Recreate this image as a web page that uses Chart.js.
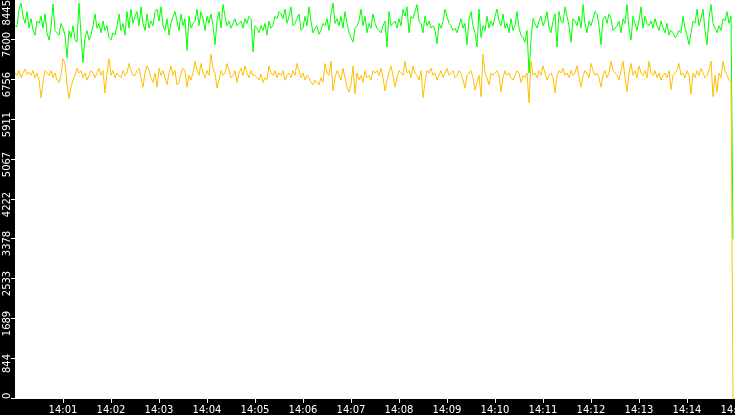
<!DOCTYPE html>
<html>
<head>
<meta charset="utf-8">
<script src="https://cdn.jsdelivr.net/npm/chart.js@4.4.1/dist/chart.umd.min.js"></script>
<style>
  html, body { margin: 0; padding: 0; background: #000; }
  #wrap { width: 735px; height: 415px; position: relative; }
</style>
</head>
<body>
<div id="wrap"><canvas id="c"></canvas></div>
<script>
// seconds between samples (start 14:00:00)
const sampleSeconds = 2.5;

const xTickValues = [60,120,180,240,300,360,420,480,540,600,660,720,780,840,900];
const xTickLabels = ['14:01','14:02','14:03','14:04','14:05','14:06','14:07','14:08','14:09','14:10','14:11','14:12','14:13','14:14','14:15'];

const yTickValues = [0,844.5,1689,2533.5,3378,4222.5,5067,5911.5,6756,7600.5,8445];
const yTickLabels = ['0','844','1689','2533','3378','4222','5067','5911','6756','7600','8445'];

const greenValues = [
7900,7880,8250,8380,8100,7950,8200,7850,8050,7800,
7700,8000,7950,8100,7850,8150,7750,7600,7850,8360,
7800,7750,7700,7950,7850,7700,7220,7800,7650,7900,
7600,7550,8380,7700,7120,7650,7800,7600,7700,7900,
8150,7850,7950,7750,8000,7800,7900,7650,7600,7750,
7700,7900,8150,7800,7950,7700,8200,7850,8250,7950,
8100,8200,7900,8300,7950,7800,8150,7850,8000,7900,
8200,8250,8000,8300,7900,7800,8050,7700,7950,8100,
8200,8000,7800,8150,7900,8050,7380,8100,7850,7950,
8000,8250,7900,8200,8050,7800,8100,7950,8150,7900,
7500,8000,8200,7850,8350,8100,7900,8000,7850,7950,
8050,7900,7950,8000,7850,8050,7950,8100,8050,7350,
7900,7850,7750,7900,7800,7950,7700,8000,7850,7900,
8100,8050,8200,8150,8050,8250,7950,8100,8300,7900,
7950,8050,8150,7800,7850,8100,7900,8300,8000,7750,
7850,7900,7720,7800,7950,7900,8050,7800,8150,8380,
7950,8050,7900,8100,7850,8200,7950,7750,7650,7550,
7850,7900,8000,8250,7900,8100,7750,7950,7850,8150,
7950,7850,7800,7750,7900,8000,7450,8200,7900,7950,
8000,7850,8050,7900,8250,8100,8300,7750,8100,8050,
8200,8350,8000,7950,7750,8100,7900,8000,7850,7900,
7800,7520,7950,7850,8000,8250,8100,7950,7900,7800,
7850,7750,7900,8050,7850,7950,7500,8050,8200,7900,
7750,7450,8250,7650,7900,7800,8100,7850,8000,7900,
8100,8250,8000,7900,8150,7850,7950,7750,8050,7800,
7900,8200,7850,7700,7650,7550,7800,6900,7600,8050,
7950,7850,8000,8100,7900,8000,8200,7850,7750,8000,
8150,7450,8200,8000,7950,8300,8100,7900,7550,8050,
8000,7900,8100,7850,8350,7950,7750,8000,7900,8050,
8200,8150,7900,7500,8050,8100,7950,8150,8050,7800,
7850,7900,8000,7750,8050,7950,8350,7850,7600,8100,
7950,7800,8000,8300,7850,8100,7950,7900,8000,7850,
8050,7900,7800,8000,7850,7750,7950,7700,7800,7750,
7650,7700,7800,7750,8100,7850,7700,7500,7750,8000,
7950,8250,7900,8050,8250,7800,7500,8050,8350,7950,
7850,7750,7900,7800,8050,8000,8200,7950,8100,3380
];

const yellowValues = [
6900,6850,6950,6800,6900,6980,6870,6920,6850,6950,
6800,6900,6750,6380,6700,6950,6900,6850,6950,6800,
6900,6750,6700,6850,7200,7100,6650,6360,6600,6750,
6850,7000,6900,6950,6800,6900,6750,6850,6950,6900,
6800,6900,7000,6850,6950,6480,6900,7200,6850,6950,
6800,6900,6850,6800,6950,6850,6900,7100,6950,6850,
6850,6950,7000,6800,6600,6900,7050,6950,6800,6700,
6900,6600,7000,6850,6950,6800,6650,6900,7050,6850,
6950,6650,6700,6900,7000,6950,6600,6850,6750,6900,
7150,6950,6850,7100,6900,6800,6950,6850,7300,7000,
6900,6580,6750,6950,6850,6900,7100,6950,6800,6850,
6950,6700,6900,7000,6850,7050,6900,6800,6950,6850,
6850,6800,6750,6880,6700,6800,6750,7050,6900,6850,
6950,6800,6900,6850,6950,6750,6850,6900,6800,6950,
6850,7100,6950,6800,6900,6750,6850,6800,6700,6650,
6750,6700,6650,6800,6700,7100,6900,6850,7150,6520,
6800,6950,6850,6750,7000,6800,6600,6500,6650,7050,
6460,6900,6750,6850,6700,6950,6800,6850,6750,6950,
6900,6950,6850,7000,6800,6520,6750,6900,7050,6850,
6600,6800,6950,6900,6850,7150,6900,6950,6800,7050,
6900,6850,6750,6950,6380,6700,6950,6900,7000,6850,
6900,6750,6850,6950,6800,6900,7000,6850,6900,6950,
6800,6850,6950,6900,6750,6580,6850,6900,6950,6800,
6540,6700,6850,6400,7300,6900,6800,6650,6900,6850,
6900,6950,6850,6500,6800,6950,6850,6900,6800,6750,
6850,6950,6900,6700,6850,6800,6900,6270,7150,6850,
6900,6800,6950,6850,7050,6900,6750,6850,6900,6800,
6480,6850,6950,6900,7000,6850,6900,6800,6950,6850,
6900,7050,6800,6600,6850,6950,6900,6800,7100,6950,
6850,6900,6800,6600,6850,6950,6800,6900,7150,6950,
6900,6850,6750,6950,7150,6800,6500,6900,7100,6850,
6950,6800,7050,6900,6850,6950,6800,7150,6900,6850,
6950,6800,6900,6750,6850,6900,6800,6950,6550,6850,
6900,6950,7100,6850,6900,6800,6950,6850,6450,6900,
6800,6950,6850,7000,6900,6800,6850,6950,7150,6400,
6850,6500,6900,6800,7150,6950,6850,6750,6700,0
];

const toPoints = vals => vals.map((v, i) => ({ x: i * sampleSeconds, y: v }));

const FONT = '10px "DejaVu Sans"';

const frame = {
  id: 'frame',
  beforeDraw(chart) {
    const { ctx, chartArea: a } = chart;
    ctx.save();
    ctx.fillStyle = '#000';
    ctx.fillRect(0, 0, chart.width, chart.height);
    ctx.fillStyle = '#fff';
    ctx.fillRect(a.left, a.top, a.right - a.left, a.bottom - a.top);
    ctx.restore();
  },
  afterDraw(chart) {
    const { ctx, chartArea: a } = chart;
    const ys = chart.scales.y;
    ctx.save();
    ctx.strokeStyle = '#fff';
    ctx.fillStyle = '#fff';
    ctx.lineWidth = 1;
    ctx.font = FONT;
    ctx.textAlign = 'center';
    ctx.textBaseline = 'alphabetic';
    yTickValues.forEach((v, i) => {
      const py = Math.round(ys.getPixelForValue(v)) - 0.5;
      ctx.beginPath();
      ctx.moveTo(a.left - 4, py);
      ctx.lineTo(a.left, py);
      ctx.stroke();
      const label = yTickLabels[i];
      const w = ctx.measureText(label).width;
      let cy = py + 5;
      if (cy - w / 2 < 0) cy = w / 2;
      if (cy + w / 2 > a.bottom) cy = a.bottom - w / 2;
      ctx.save();
      ctx.translate(10, cy);
      ctx.rotate(-Math.PI / 2);
      ctx.fillText(label, 0, 0);
      ctx.restore();
    });
    ctx.restore();
  }
};

new Chart(document.getElementById('c'), {
  type: 'line',
  data: {
    datasets: [
      { label: 'A', data: toPoints(yellowValues), borderColor: '#ffc000', borderWidth: 1, pointRadius: 0, tension: 0, fill: false },
      { label: 'B', data: toPoints(greenValues), borderColor: '#00ff00', borderWidth: 1, pointRadius: 0, tension: 0, fill: false }
    ]
  },
  options: {
    responsive: true,
    maintainAspectRatio: false,
    animation: false,
    events: [],
    layout: { padding: 0 },
    plugins: { legend: { display: false }, tooltip: { enabled: false }, title: { display: false } },
    scales: {
      x: {
        type: 'linear',
        position: 'bottom',
        min: 0,
        max: 900,
        afterBuildTicks: s => { s.ticks = xTickValues.map(v => ({ value: v })); },
        afterFit: s => { s.height = 16; s.paddingLeft = 0; s.paddingRight = 0; },
        border: { display: false },
        grid: { drawOnChartArea: false, drawTicks: true, tickLength: 4, tickColor: '#fff', color: '#fff', lineWidth: 1 },
        ticks: {
          autoSkip: false, maxRotation: 0, minRotation: 0,
          color: '#fff', font: { family: 'DejaVu Sans', size: 10 }, padding: 1,
          callback: (v, i) => xTickLabels[i]
        }
      },
      y: {
        position: 'left',
        min: 0,
        max: 8445,
        afterBuildTicks: s => { s.ticks = yTickValues.map(v => ({ value: v })); },
        afterFit: s => { s.width = 15; s.paddingTop = 0; s.paddingBottom = 0; },
        border: { display: false },
        grid: { display: false },
        ticks: { display: false }
      }
    }
  },
  plugins: [frame]
});
</script>
</body>
</html>
